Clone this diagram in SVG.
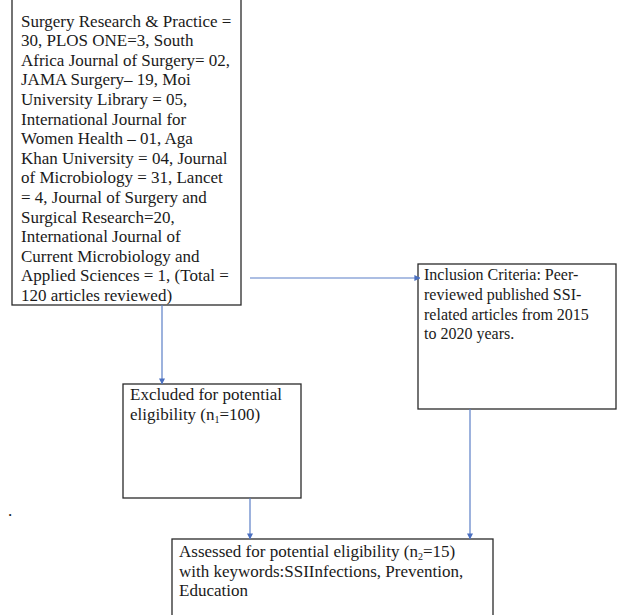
<svg xmlns="http://www.w3.org/2000/svg" width="617" height="615" viewBox="0 0 617 615">
<style>
.box{fill:#fff;stroke:#2a2a2a;stroke-width:1.3}
.t{font-family:"Liberation Serif","Times New Roman",serif;font-size:17px;fill:#1a1a1a}
.s{font-size:16px}
.c{stroke:#5b7fc7;stroke-width:1.2;fill:none}
</style>
<defs>
<marker id="ah" viewBox="0 0 8 8" refX="7.5" refY="4" markerWidth="6" markerHeight="6" orient="auto" markerUnits="userSpaceOnUse">
<path d="M0,0 L8,4 L0,8 z" fill="#4a6fc0"/>
</marker>
</defs>
<rect width="617" height="615" fill="#fff"/>
<g id="sources">
<rect class="box" x="12" y="-5" width="229" height="310"/>
<text class="t" x="21" y="26.5">
<tspan x="21" dy="0">Surgery Research &amp; Practice =</tspan>
<tspan x="21" dy="19.6">30, PLOS ONE=3, South</tspan>
<tspan x="21" dy="19.6">Africa Journal of Surgery= 02,</tspan>
<tspan x="21" dy="19.6">JAMA Surgery– 19, Moi</tspan>
<tspan x="21" dy="19.6">University Library = 05,</tspan>
<tspan x="21" dy="19.6">International Journal for</tspan>
<tspan x="21" dy="19.6">Women Health – 01, Aga</tspan>
<tspan x="21" dy="19.6">Khan University = 04, Journal</tspan>
<tspan x="21" dy="19.6">of Microbiology = 31, Lancet</tspan>
<tspan x="21" dy="19.6">= 4, Journal of Surgery and</tspan>
<tspan x="21" dy="19.6">Surgical Research=20,</tspan>
<tspan x="21" dy="19.6">International Journal of</tspan>
<tspan x="21" dy="19.6">Current Microbiology and</tspan>
<tspan x="21" dy="19.6">Applied Sciences = 1, (Total =</tspan>
<tspan x="21" dy="19.6">120 articles reviewed)</tspan>
</text>
</g>
<g id="inclusion">
<rect class="box" x="418" y="264" width="198" height="145"/>
<text class="t s" x="424" y="280">
<tspan x="424" dy="0">Inclusion Criteria: Peer-</tspan>
<tspan x="424" dy="19.8">reviewed published SSI-</tspan>
<tspan x="424" dy="19.8">related articles from 2015</tspan>
<tspan x="424" dy="19.8">to 2020 years.</tspan>
</text>
</g>
<g id="excluded">
<rect class="box" x="123" y="384" width="178" height="114"/>
<text class="t" x="130" y="400">
<tspan x="130" dy="0">Excluded for potential</tspan>
<tspan x="130" dy="19.6">eligibility (n<tspan font-size="10" dy="3">1</tspan><tspan dy="-3">=100)</tspan></tspan>
</text>
</g>
<g id="assessed">
<rect class="box" x="172" y="539" width="321" height="90"/>
<text class="t" x="179" y="557">
<tspan x="179" dy="0">Assessed for potential eligibility (n<tspan font-size="10" dy="3">2</tspan><tspan dy="-3">=15)</tspan></tspan>
<tspan x="179" dy="19.6">with keywords:SSIInfections, Prevention,</tspan>
<tspan x="179" dy="19.6">Education</tspan>
</text>
</g>
<text class="t" x="8" y="516">.</text>
<g id="connectors">
<line class="c" x1="250" y1="278" x2="420" y2="278" marker-end="url(#ah)"/>
<line class="c" x1="162" y1="305" x2="162" y2="384" marker-end="url(#ah)"/>
<line class="c" x1="250" y1="498" x2="250" y2="539" marker-end="url(#ah)"/>
<line class="c" x1="470" y1="409" x2="470" y2="539" marker-end="url(#ah)"/>
</g>
</svg>
